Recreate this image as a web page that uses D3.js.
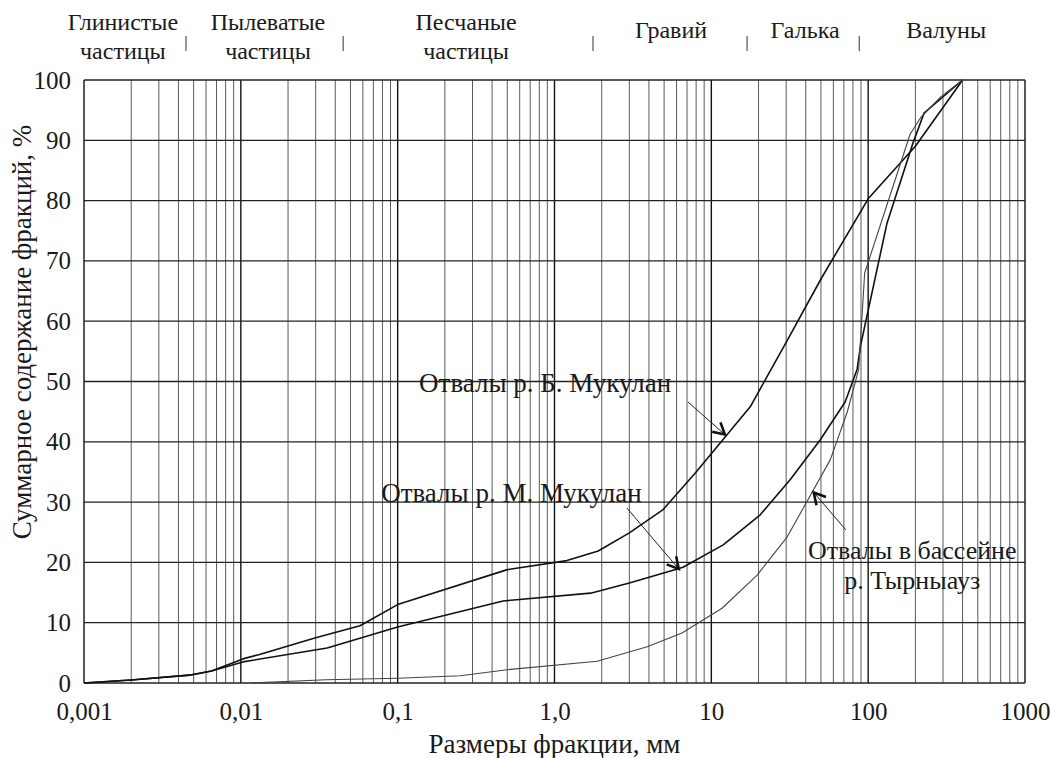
<!DOCTYPE html>
<html>
<head>
<meta charset="utf-8">
<script src="https://cdn.jsdelivr.net/npm/d3@7"></script>
<style>
  body { margin: 0; background: #fff; }
  svg text { font-family: "Liberation Serif", "DejaVu Serif", "Times New Roman", serif; fill: #1a1a1a; }
</style>
</head>
<body>
<div id="chart"></div>
<script>
// размеры фракций (мм) и суммарное содержание (%)
const sizesB = [0.001, 0.002, 0.0047, 0.0065, 0.0103, 0.013, 0.03, 0.0575, 0.1, 0.5, 1.2, 1.9, 3.0, 4.9, 8, 17.7, 30, 50, 100, 150, 200, 400];
const valuesB = [0, 0.5, 1.3, 2, 4, 4.7, 7.5, 9.5, 13, 18.8, 20.3, 21.9, 24.9, 28.7, 35, 45.8, 56.5, 67, 80.3, 85.4, 89, 100];

const sizesM = [0.001, 0.002, 0.0047, 0.0065, 0.0103, 0.0355, 0.1, 0.47, 1.7, 3.0, 5.7, 6.6, 11.9, 20.5, 31.8, 49.4, 71.3, 85, 89.5, 132, 194, 227, 400];
const valuesM = [0, 0.5, 1.3, 2, 3.5, 5.8, 9.3, 13.6, 14.9, 16.6, 18.7, 19.2, 22.9, 27.9, 33.7, 40.3, 46.6, 52, 56, 76.3, 89.7, 94.5, 100];

const sizesT = [0.0118, 0.035, 0.1, 0.25, 0.5, 1.87, 3.9, 6.5, 11.7, 19.6, 30.4, 57.3, 73.5, 87, 95, 185, 218, 290, 400];
const valuesT = [0, 0.55, 0.8, 1.2, 2.2, 3.6, 6, 8.3, 12.4, 17.9, 24.2, 37, 44.9, 52, 68, 91, 93.9, 97.2, 100];

const xTickVals = [0.001, 0.01, 0.1, 1, 10, 100, 1000];
const xTickLabels = ["0,001", "0,01", "0,1", "1,0", "10", "100", "1000"];
const yTickVals = [0, 10, 20, 30, 40, 50, 60, 70, 80, 90, 100];

// классы фракций: подписи, центры (мм), границы (мм)
const classLabels = [["Глинистые", "частицы"], ["Пылеватые", "частицы"], ["Песчаные", "частицы"], ["Гравий"], ["Галька"], ["Валуны"]];
const classCenters = [0.00177, 0.0149, 0.273, 5.54, 39.6, 314];
const classBounds = [0.00447, 0.0449, 1.76, 16.9, 87.7];

// подписи кривых со стрелками: [текст, точка подписи, начало стрелки, конец стрелки]
const noteLines = [["Отвалы р. Б. Мукулан"], ["Отвалы р. М. Мукулан"], ["Отвалы в бассейне", "р. Тырныауз"]];
const noteAt = [[0.137, 48.2], [0.0785, 30.0], [191, 20.5]];
const arrowFrom = [[7.1, 46.6], [2.9, 29], [72, 25.4]];
const arrowTo = [[12.2, 41.2], [6.2, 18.9], [45, 31.6]];

const width = 1051, height = 758;
const margin = {left: 84, right: 26, top: 80, bottom: 75};
const serif = "'Liberation Serif', 'DejaVu Serif', serif";

const svg = d3.select("#chart").append("svg")
    .attr("width", width).attr("height", height)
    .style("font-family", serif);

const x = d3.scaleLog().domain([0.001, 1000]).range([margin.left, width - margin.right]);
const y = d3.scaleLinear().domain([0, 100]).range([height - margin.bottom, margin.top]);

const isDecade = d => Math.abs(Math.log10(d) - Math.round(Math.log10(d))) < 1e-6;

// сетка
const grid = svg.append("g");
grid.selectAll("line.v").data(x.ticks()).enter().append("line")
    .attr("x1", d => x(d)).attr("x2", d => x(d))
    .attr("y1", y(0)).attr("y2", y(100))
    .attr("stroke", d => isDecade(d) ? "#111" : "#5a5a5a")
    .attr("stroke-width", d => isDecade(d) ? 1.4 : 1);
grid.selectAll("line.h").data(yTickVals).enter().append("line")
    .attr("x1", x(0.001)).attr("x2", x(1000))
    .attr("y1", d => y(d)).attr("y2", d => y(d))
    .attr("stroke", "#222").attr("stroke-width", 1.3);

// оси
const xAxis = svg.append("g").attr("transform", `translate(0,${y(0)})`)
    .call(d3.axisBottom(x).tickValues(xTickVals).tickFormat((d, i) => xTickLabels[i]).tickSize(0).tickPadding(19));
const yAxis = svg.append("g").attr("transform", `translate(${x(0.001)},0)`)
    .call(d3.axisLeft(y).tickValues(yTickVals).tickFormat(d => d).tickSize(0).tickPadding(13));
[xAxis, yAxis].forEach(a => {
    a.attr("font-family", serif).attr("font-size", 25);
    a.select(".domain").remove();
    a.selectAll("text").attr("fill", "#1a1a1a");
});

svg.append("text")
    .attr("x", (x(0.001) + x(1000)) / 2).attr("y", 753)
    .attr("text-anchor", "middle").style("font-size", "27px")
    .text("Размеры фракции, мм");
svg.append("text")
    .attr("transform", "translate(31,332) rotate(-90)")
    .attr("text-anchor", "middle").style("font-size", "27px")
    .text("Суммарное содержание фракций, %");

// классы фракций
classLabels.forEach((lines, i) => {
    lines.forEach((s, j) => {
        svg.append("text").attr("text-anchor", "middle").style("font-size", "24px")
            .attr("x", x(classCenters[i]))
            .attr("y", (lines.length > 1 ? 30 : 38) + j * 29)
            .text(s);
    });
});
svg.selectAll("line.bound").data(classBounds).enter().append("line")
    .attr("x1", d => x(d)).attr("x2", d => x(d))
    .attr("y1", 36).attr("y2", 51)
    .attr("stroke", "#333").attr("stroke-width", 1);

// кривые
const line = d3.line().x(d => x(d[0])).y(d => y(d[1]));
const series = [
    {s: sizesB, v: valuesB, color: "#111", w: 1.6},
    {s: sizesM, v: valuesM, color: "#111", w: 1.6},
    {s: sizesT, v: valuesT, color: "#444", w: 1.1}
];
svg.append("g").selectAll("path").data(series).enter().append("path")
    .attr("d", d => line(d.s.map((v, i) => [v, d.v[i]])))
    .attr("fill", "none")
    .attr("stroke", d => d.color)
    .attr("stroke-width", d => d.w)
    .attr("stroke-linejoin", "round");

// подписи и стрелки
noteLines.forEach((lines, i) => {
    const multi = lines.length > 1;
    lines.forEach((s, j) => {
        svg.append("text")
            .attr("text-anchor", multi ? "middle" : "start")
            .style("font-size", multi ? "26px" : "27px")
            .attr("x", x(noteAt[i][0])).attr("y", y(noteAt[i][1]) + j * 30)
            .text(s);
    });
    const x1 = x(arrowFrom[i][0]), y1 = y(arrowFrom[i][1]);
    const x2 = x(arrowTo[i][0]), y2 = y(arrowTo[i][1]);
    svg.append("line").attr("x1", x1).attr("y1", y1).attr("x2", x2).attr("y2", y2)
        .attr("stroke", "#222").attr("stroke-width", 1);
    const ang = Math.atan2(y2 - y1, x2 - x1);
    const len = 13, spread = 0.5;
    const head = [
        [x2 - len * Math.cos(ang - spread), y2 - len * Math.sin(ang - spread)],
        [x2, y2],
        [x2 - len * Math.cos(ang + spread), y2 - len * Math.sin(ang + spread)]
    ];
    svg.append("path").attr("d", d3.line()(head))
        .attr("fill", "none").attr("stroke", "#111").attr("stroke-width", 2.6);
});
</script>
</body>
</html>
